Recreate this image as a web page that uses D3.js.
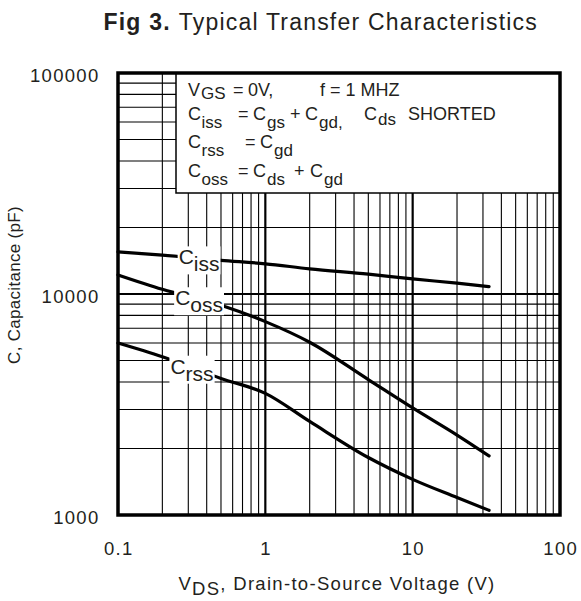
<!DOCTYPE html>
<html><head><meta charset="utf-8">
<script src="https://cdn.jsdelivr.net/npm/d3@7"></script>
<style>
html,body{margin:0;padding:0;background:#fff;}
svg{display:block;font-family:"Liberation Sans",Arial,Helvetica,sans-serif;}
</style></head>
<body>
<svg id="chart" width="581" height="601"></svg>
<script>
// ---- data ----
const vds = [0.1, 0.2, 0.5, 1, 2, 5, 10, 20, 33];
const ciss = [15500, 15000, 14200, 13700, 13000, 12300, 11700, 11200, 10800];
const coss = [12200, 10500, 8900, 7500, 6050, 4100, 3050, 2300, 1850];
const crss = [6000, 5200, 4150, 3550, 2650, 1820, 1450, 1200, 1050];
const seriesNames = ["iss", "oss", "rss"];
const labelV = [0.355, 0.355, 0.318];
const xTicks = [0.1, 1, 10, 100];
const yTicks = [1000, 10000, 100000];
const xTickLabels = ["0.1", "1", "10", "100"];
const yTickLabels = ["1000", "10000", "100000"];

const svg = d3.select("#chart");
const M = {left: 118, right: 560, top: 73, bottom: 515};
const x = d3.scaleLog().domain([0.1, 100]).range([M.left, M.right]);
const y = d3.scaleLog().domain([1000, 100000]).range([M.bottom, M.top]);
const ink = "#000";
const txt = "#231f20";

// grid
const xMinor = [], yMinor = [];
[0.1, 1, 10].forEach(d => { for (let k = 2; k <= 9; k++) xMinor.push(d * k); });
[1000, 10000].forEach(d => { for (let k = 2; k <= 9; k++) yMinor.push(d * k); });
const g = svg.append("g");
g.selectAll(".vx").data(xMinor).join("line")
  .attr("x1", d => x(d)).attr("x2", d => x(d)).attr("y1", M.top).attr("y2", M.bottom)
  .attr("stroke", ink).attr("stroke-width", 1.1);
g.selectAll(".hy").data(yMinor).join("line")
  .attr("y1", d => y(d)).attr("y2", d => y(d)).attr("x1", M.left).attr("x2", M.right)
  .attr("stroke", ink).attr("stroke-width", 1.1);
g.selectAll(".vmaj").data([1, 10]).join("line")
  .attr("x1", d => x(d)).attr("x2", d => x(d)).attr("y1", M.top).attr("y2", M.bottom)
  .attr("stroke", ink).attr("stroke-width", 2.2);
g.selectAll(".hmaj").data([10000]).join("line")
  .attr("y1", d => y(d)).attr("y2", d => y(d)).attr("x1", M.left).attr("x2", M.right)
  .attr("stroke", ink).attr("stroke-width", 2.2);

// legend box
const lg = svg.append("g");
lg.append("rect").attr("x", 176).attr("y", M.top).attr("width", M.right - 176).attr("height", 120)
  .attr("fill", "#fff").attr("stroke", ink).attr("stroke-width", 1.5);

function rich(parent, base, parts, size, subSize) {
  const t = parent.append("text").attr("fill", txt).attr("font-size", size);
  parts.forEach(p => {
    const s = t.append("tspan").attr("x", p.x).attr("y", base + (p.sub || 0)).text(p.t);
    if (p.sub) s.attr("font-size", subSize);
  });
  return t;
}
const LS = 18, LSS = 17;
rich(lg, 96, [
  {t: "V", x: 188}, {t: "GS", x: 201, sub: 3}, {t: "=", x: 233}, {t: "0V,", x: 248}, {t: "f = 1 MHZ", x: 320}
], LS, LSS);
rich(lg, 120, [
  {t: "C", x: 188}, {t: "iss", x: 201.5, sub: 8}, {t: "=", x: 238}, {t: "C", x: 253}, {t: "gs", x: 267, sub: 8},
  {t: "+", x: 290}, {t: "C", x: 305}, {t: "gd,", x: 319, sub: 8}, {t: "C", x: 364}, {t: "ds", x: 378, sub: 5},
  {t: "SHORTED", x: 408}
], LS, LSS);
rich(lg, 148, [
  {t: "C", x: 188}, {t: "rss", x: 201.5, sub: 8}, {t: "=", x: 245}, {t: "C", x: 260}, {t: "gd", x: 274, sub: 8}
], LS, LSS);
rich(lg, 177, [
  {t: "C", x: 188}, {t: "oss", x: 201.5, sub: 8}, {t: "=", x: 238}, {t: "C", x: 253}, {t: "ds", x: 267, sub: 8},
  {t: "+", x: 294}, {t: "C", x: 310}, {t: "gd", x: 324, sub: 8}
], LS, LSS);

// curves
const series = [ciss, coss, crss];
const line = d3.line().x((d, i) => x(vds[i])).y(d => y(d)).curve(d3.curveMonotoneX);
svg.append("g").selectAll("path").data(series).join("path")
  .attr("d", d => line(d)).attr("fill", "none").attr("stroke", ink)
  .attr("stroke-width", 3.2).attr("stroke-linecap", "round").attr("stroke-linejoin", "round");

// curve labels
function valAt(arr, v) {
  const ly = d3.scaleLinear().domain(vds.map(Math.log10)).range(arr.map(Math.log10));
  return Math.pow(10, ly(Math.log10(v)));
}
const labG = svg.append("g");
series.forEach((arr, i) => {
  const cx = x(labelV[i]), cy = y(valAt(arr, labelV[i]));
  const gg = labG.append("g");
  const t = gg.append("text").attr("fill", txt).attr("font-size", 21)
    .attr("text-anchor", "middle").attr("x", cx).attr("y", cy + 6);
  t.append("tspan").text("C");
  t.append("tspan").attr("dy", 7).text(seriesNames[i]);
  const bb = t.node().getBBox();
  gg.insert("rect", "text").attr("x", bb.x - 1).attr("y", bb.y + 1)
    .attr("width", bb.width + 2).attr("height", bb.height - 2).attr("fill", "#fff");
});

// frame
svg.append("rect").attr("x", M.left).attr("y", M.top).attr("width", M.right - M.left)
  .attr("height", M.bottom - M.top).attr("fill", "none").attr("stroke", ink).attr("stroke-width", 3.5);

// ticks
svg.append("g").selectAll("text").data(xTicks).join("text")
  .attr("x", d => x(d) + 0.7).attr("y", 555).attr("text-anchor", "middle")
  .attr("font-size", 18.5).attr("letter-spacing", 1.3).attr("fill", txt)
  .text((d, i) => xTickLabels[i]);
svg.append("g").selectAll("text").data(yTicks).join("text")
  .attr("x", 99.5).attr("y", d => y(d) + 8.5).attr("text-anchor", "end")
  .attr("font-size", 18.5).attr("letter-spacing", 1.3).attr("fill", txt)
  .text((d, i) => yTickLabels[i]);

// axis titles
svg.append("text").attr("transform", "translate(20,285) rotate(-90)")
  .attr("text-anchor", "middle").attr("font-size", 17).attr("letter-spacing", 0.3).attr("fill", txt)
  .text("C, Capacitance (pF)");
const xt = svg.append("text").attr("x", 337).attr("y", 590).attr("text-anchor", "middle")
  .attr("font-size", 18.5).attr("letter-spacing", 1.3).attr("fill", txt);
xt.append("tspan").text("V");
xt.append("tspan").attr("dy", 5).text("DS");
xt.append("tspan").attr("dy", -5).text(", Drain-to-Source Voltage (V)");

// title
const tt = svg.append("text").attr("x", 538).attr("y", 30).attr("text-anchor", "end")
  .attr("font-size", 23).attr("letter-spacing", 1.2).attr("fill", txt);
tt.append("tspan").attr("font-weight", "bold").text("Fig 3.");
tt.append("tspan").attr("dx", 8).text("Typical Transfer Characteristics");
</script>
</body></html>
